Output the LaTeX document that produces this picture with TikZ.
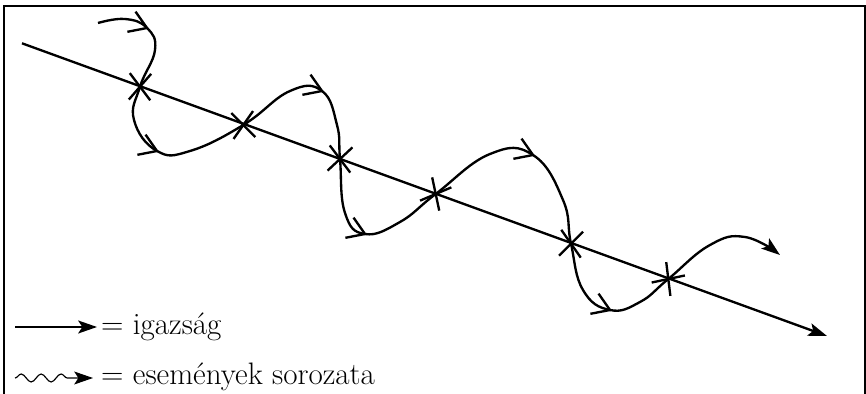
\documentclass[tikz,border=0pt]{standalone}
\usetikzlibrary{arrows.meta,decorations.pathmorphing}
\begin{document}
\begin{tikzpicture}[x=0.03cm,y=0.03cm,line width=2pt,
  hegy/.style={-{Stealth[length=16pt,width=11pt,inset=3.5pt]}},
  felirat/.style={anchor=base west,inner sep=0pt,font=\fontsize{26.5}{30}\selectfont}]

\useasboundingbox (0,0) rectangle (866,394);

% Keret
\draw (4,-10) -- (4,388) -- (865,388) -- (865,-10);

% Igazság
\coordinate (kezd) at (22,350.7);
\coordinate (veg) at (827,58);
\draw[hegy] (kezd) -- (veg);

% Metszéspontok
\coordinate (x1) at (140,307.3);
\coordinate (x2) at (243.3,269);
\coordinate (x3) at (340,235);
\coordinate (x4) at (435.7,200);
\coordinate (x5) at (571,150.3);
\coordinate (x6) at (668.3,115);

% Fordulópontok
\coordinate (t1) at (147,366);
\coordinate (b1) at (157,243);
\coordinate (t2) at (322,303);
\coordinate (b2) at (365,160);
\coordinate (t3) at (533,239);
\coordinate (b3) at (610,84);

% Események
\draw[hegy] plot[smooth,tension=0.75] coordinates {(98,371) (125,375) (t1) (155,344) (x1) (134,274) (b1) (190,243) (x2) (290,303) (t2) (337,269) (x3) (345,181) (b2) (400,172) (x4) (490,240) (t3) (563,194) (x5) (583,104) (b3) (640,92) (x6) (710,149) (745,157) (780,139)};

% Nyilacskák
\foreach \t in {t1,b1,t2,b2,t3,b3}
  \draw (\t) ++(125:20) -- (\t) -- ++(191:20);

% Keresztek
\foreach \c/\a/\b in {x1/-53/49,x2/-45/55,x3/-53/43,x4/-78/23,x5/-55/45,x6/-83/12}{
  \draw (\c) ++(\a:17) -- ++(\a+180:34);
  \draw (\c) ++(\b:17) -- ++(\b+180:34);
}

% Jelmagyarázat
\coordinate (ja) at (15,67);
\coordinate (jb) at (97,67);
\draw[hegy] (ja) -- (jb);
\node[felirat] (igazsag) at (100,59) {= igazság};

\coordinate (ea) at (15,16);
\coordinate (eb) at (93,16);
\draw[hegy,line width=1pt,decorate,decoration={snake,amplitude=3.4pt,segment length=17pt,post length=15pt}] (ea) -- (eb);
\node[felirat] (esemenyek) at (100,9) {= események sorozata};

\end{tikzpicture}
\end{document}
